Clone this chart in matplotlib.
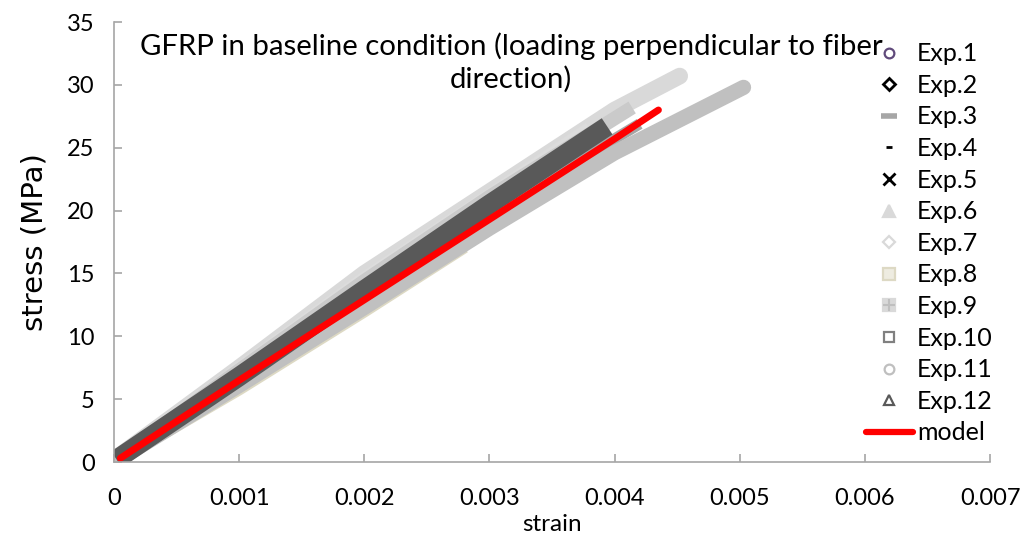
import matplotlib
matplotlib.use("Agg")
import matplotlib.pyplot as plt
from matplotlib.lines import Line2D
from matplotlib.legend_handler import HandlerTuple

plt.rcParams['font.family'] = ['Lato', 'DejaVu Sans']

# ---- data: strain (-) and stress (MPa) along each specimen record ----
exp1_strain = [0.00003, 0.001, 0.002, 0.003, 0.0037]
exp1_stress = [0.3, 6.9, 13.8, 20.6, 25.0]
exp2_strain = [0.00003, 0.001, 0.002, 0.003, 0.0036]
exp2_stress = [0.3, 7.0, 13.9, 20.7, 24.6]
exp3_strain = [0.00002, 0.001, 0.002, 0.003, 0.0042]
exp3_stress = [0.2, 6.6, 13.1, 19.7, 26.9]
exp4_strain = [0.00003, 0.001, 0.002, 0.003, 0.0035]
exp4_stress = [0.3, 6.8, 13.7, 20.5, 23.8]
exp5_strain = [0.00003, 0.001, 0.002, 0.003, 0.0034]
exp5_stress = [0.3, 6.9, 13.8, 20.6, 23.3]
exp6_strain = [0.00003, 0.001, 0.002, 0.003, 0.004, 0.00452]
exp6_stress = [0.4, 7.5, 15.0, 21.5, 28.0, 30.7]
exp7_strain = [0.00003, 0.001, 0.002, 0.003, 0.0038]
exp7_stress = [0.4, 7.4, 14.6, 21.2, 26.5]
exp8_strain = [0.00002, 0.001, 0.002, 0.0028]
exp8_stress = [0.1, 5.8, 12.0, 17.1]
exp9_strain = [0.00003, 0.001, 0.002, 0.003, 0.00414]
exp9_stress = [0.3, 7.3, 14.4, 21.1, 28.2]
exp10_strain = [0.00003, 0.001, 0.002, 0.003, 0.0038]
exp10_stress = [0.3, 7.0, 14.0, 20.8, 25.8]
exp11_strain = [0.00002, 0.001, 0.002, 0.003, 0.004, 0.00503]
exp11_stress = [0.1, 6.1, 12.3, 18.6, 24.6, 29.8]
exp12_strain = [0.00002, 0.001, 0.002, 0.003, 0.00394]
exp12_stress = [0.2, 6.8, 13.7, 20.5, 26.7]
model_strain = [0.00005, 0.001, 0.002, 0.003, 0.004, 0.00435]
model_stress = [0.3, 6.5, 12.9, 19.3, 25.7, 28.0]

series_labels = ["Exp.1", "Exp.2", "Exp.3", "Exp.4", "Exp.5", "Exp.6",
                 "Exp.7", "Exp.8", "Exp.9", "Exp.10", "Exp.11", "Exp.12"]
x_ticks = [0, 0.001, 0.002, 0.003, 0.004, 0.005, 0.006, 0.007]
x_tick_labels = ["0", "0.001", "0.002", "0.003", "0.004", "0.005", "0.006", "0.007"]
y_ticks = [0, 5, 10, 15, 20, 25, 30, 35]
y_tick_labels = ["0", "5", "10", "15", "20", "25", "30", "35"]

# ---- figure ----
fig = plt.figure(figsize=(10.21, 5.42), dpi=100)
ax = fig.add_axes([0.1117, 0.1476, 0.858, 0.8118])

# dense measurement records render as thick bands
band_styles = [
    (exp1_strain, exp1_stress, "#604a7b", 5, "butt"),
    (exp2_strain, exp2_stress, "#000000", 5, "butt"),
    (exp3_strain, exp3_stress, "#a6a6a6", 8, "butt"),
    (exp4_strain, exp4_stress, "#000000", 4, "butt"),
    (exp5_strain, exp5_stress, "#000000", 4, "butt"),
    (exp6_strain, exp6_stress, "#d9d9d9", 12, "round"),
    (exp7_strain, exp7_stress, "#dcdcdc", 10, "butt"),
    (exp8_strain, exp8_stress, "#ddd9c4", 9, "butt"),
    (exp9_strain, exp9_stress, "#cacaca", 10, "butt"),
    (exp10_strain, exp10_stress, "#7f7f7f", 5, "butt"),
    (exp11_strain, exp11_stress, "#c0c0c0", 11, "round"),
    (exp12_strain, exp12_stress, "#595959", 14, "butt"),
]
for xs, ys, col, lw, cap in band_styles:
    ax.plot(xs, ys, color=col, lw=lw, solid_capstyle=cap, solid_joinstyle="round")

ax.plot(model_strain, model_stress, color="#ff0000", lw=5, solid_capstyle="round")

# ---- axes styling ----
ax.set_xlim(0, 0.007)
ax.set_ylim(0, 35)
ax.set_xticks(x_ticks)
ax.set_xticklabels(x_tick_labels)
ax.set_yticks(y_ticks)
ax.set_yticklabels(y_tick_labels)
for side in ("top", "right"):
    ax.spines[side].set_visible(False)
for side in ("left", "bottom"):
    ax.spines[side].set_color("#a6a6a6")
    ax.spines[side].set_linewidth(1.2)
ax.tick_params(axis="both", direction="in", length=6, width=1.2, color="#a6a6a6",
               labelsize=17, labelcolor="#000000")
ax.tick_params(axis="x", pad=19)
ax.tick_params(axis="y", pad=14)

ax.set_xlabel("strain", fontsize=17.5, labelpad=3)
ax.set_ylabel("stress (MPa)", fontsize=21, family="DejaVu Sans", labelpad=13)

fig.text(0.5005, 0.915, "GFRP in baseline condition (loading perpendicular to fiber",
         ha="center", va="center", fontsize=21.2)
fig.text(0.5005, 0.853, "direction)", ha="center", va="center", fontsize=21.2)

# ---- legend ----
def mk(marker, face, edge, size=7, mew=1.6):
    return Line2D([], [], ls="none", marker=marker, markerfacecolor=face,
                  markeredgecolor=edge, markersize=size, markeredgewidth=mew)

handles = [
    mk("o", "white", "#604a7b"),
    mk("D", "white", "#000000", size=6, mew=2),
    mk("_", "#a6a6a6", "#a6a6a6", size=11, mew=4),
    mk("_", "#000000", "#000000", size=5, mew=2),
    mk("x", "#000000", "#000000", size=8, mew=2),
    mk("^", "#d9d9d9", "#d9d9d9", size=8),
    mk("D", "white", "#d9d9d9", size=6, mew=1.6),
    mk("s", "#eeece1", "#ddd9c4", size=8),
    (mk("s", "#d9d9d9", "#d9d9d9", size=8), mk("+", "#bfbfbf", "#bfbfbf", size=8, mew=1.5)),
    mk("s", "white", "#808080", size=7),
    mk("o", "white", "#bfbfbf"),
    mk("^", "white", "#595959", size=7),
    Line2D([], [], color="#ff0000", lw=4.5, solid_capstyle="round"),
]
labels = series_labels + ["model"]
fig.legend(handles, labels, loc="upper left", bbox_to_anchor=(0.848, 0.922),
           frameon=False, fontsize=18, handlelength=1.88, handletextpad=0.16,
           labelspacing=0.344, borderaxespad=0, borderpad=0,
           handler_map={tuple: HandlerTuple(ndivide=1, pad=0)})

fig.savefig("out.png", dpi=100)
